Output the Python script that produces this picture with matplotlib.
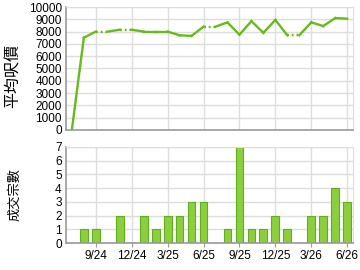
import matplotlib.pyplot as plt
import numpy as np

plt.rcParams['font.family'] = ['Liberation Sans', 'Noto Sans CJK TC', 'DejaVu Sans']

# months 7/24 .. 6/26, index 0 = 9/24
months = np.arange(-2, 22)
avg_price = [0, 7500, 8000, 8000, 8150, 8150, 8000, 8000, 8000, 7700, 7650, 8400,
             8400, 8750, 7750, 8850, 7900, 8950, 7700, 7700, 8750, 8450, 9100, 9050]
volume = [0, 1, 1, 0, 2, 0, 2, 1, 2, 2, 3, 3,
          0, 1, 7, 1, 1, 2, 1, 0, 2, 2, 4, 3]
tick_pos = [0, 3, 6, 9, 12, 15, 18, 21]
tick_labels = ['9/24', '12/24', '3/25', '6/25', '9/25', '12/25', '3/26', '6/26']

grid_c = '#dddddd'
spine_c = '#999999'
line_c = '#66bb1a'
cjk = ['Noto Sans CJK TC', 'DejaVu Sans']

fig = plt.figure(figsize=(3.6, 2.7), dpi=100)
ax1 = fig.add_axes([0.183, 0.519, 0.798, 0.455])
ax2 = fig.add_axes([0.183, 0.100, 0.798, 0.356])

for ax in (ax1, ax2):
    ax.set_xlim(-2.5, 21.5)
    ax.set_xticks(tick_pos)
    ax.grid(True, color=grid_c, linewidth=1)
    ax.set_axisbelow(True)
    for s in ('top', 'right'):
        ax.spines[s].set_color(grid_c)
    for s in ('left', 'bottom'):
        ax.spines[s].set_color(spine_c)
        ax.spines[s].set_linewidth(1.2)
    ax.tick_params(axis='y', length=0, labelsize=8.5, pad=3)
    ax.tick_params(axis='x', length=3, color=spine_c, labelsize=8.5, pad=2)

# average price line: segments into months with no deals are dotted
for i in range(1, len(months)):
    ls = (0, (0.8, 1.2)) if volume[i] == 0 else '-'
    ax1.plot(months[i - 1:i + 1], avg_price[i - 1:i + 1], color=line_c,
             linewidth=1.7, linestyle=ls)
ax1.set_ylim(0, 10000)
ax1.set_yticks(range(0, 10001, 1000))
ax1.set_xticklabels([])
ax1.tick_params(axis='x', length=0)

ax2.bar(months, volume, width=0.65, color='#8ccf3c', edgecolor='#5fae1e', linewidth=0.8)
ax2.set_ylim(0, 7)
ax2.set_yticks(range(0, 8))
ax2.set_xticklabels(tick_labels)

# axis titles
fig.text(0.038, 0.719, '平均呎價', rotation=90, ha='center', va='center',
         fontsize=11.5, family=cjk)
fig.text(0.042, 0.281, '成交宗數', rotation=90, ha='center', va='center',
         fontsize=9.5, family=cjk)

fig.savefig('out.png', dpi=100)
